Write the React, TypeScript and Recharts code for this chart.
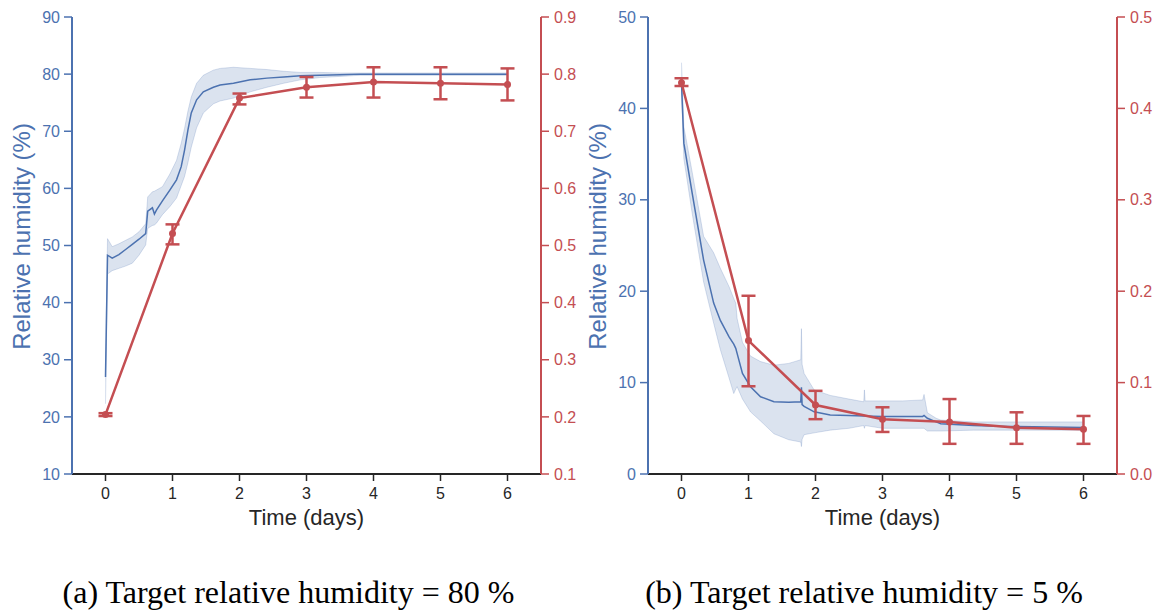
import React from 'react';
import { Area, ComposedChart, ErrorBar, Line, XAxis, YAxis } from 'recharts';

const days = [0, 1, 2, 3, 4, 5, 6];

// (a) target RH 80 %: sensor humidity (mean and min/max band)
const timeA = [0, 0.03, 0.1, 0.2, 0.3, 0.4, 0.5, 0.6, 0.63, 0.7, 0.73, 0.76, 0.85, 0.96, 1.06, 1.13, 1.18, 1.23, 1.28, 1.36, 1.46, 1.61, 1.71, 1.91, 2.16, 2.41, 2.66, 2.91, 3.2, 3.5, 3.8, 4.2, 4.6, 5.0, 5.5, 6.0];
const meanA = [27, 48.3, 47.8, 48.4, 49.3, 50.2, 51.1, 52.1, 56, 56.6, 55.5, 56.2, 57.8, 59.7, 61.5, 63.8, 66.7, 70.2, 73.2, 75.5, 76.9, 77.7, 78.1, 78.4, 79.0, 79.3, 79.5, 79.7, 79.8, 79.9, 80, 80, 80, 80, 80, 80];
const lowA = [22.3, 45, 45.6, 46.0, 46.4, 46.9, 48.3, 50.1, 53.0, 53.5, 53.6, 53.9, 55.4, 56.8, 58.3, 60.5, 62.1, 64.5, 67.2, 70.6, 73.2, 74.8, 75.3, 75.8, 76.9, 77.7, 78.4, 79.0, 79.4, 79.6, 79.8, 79.8, 79.8, 79.8, 79.8, 79.8];
const highA = [28, 51.2, 49.8, 50.3, 50.9, 51.5, 52.4, 53.8, 58.5, 59.4, 59.5, 59.7, 60.3, 62.5, 64.9, 67.9, 70.5, 73.5, 76.0, 78.4, 79.8, 80.7, 81.0, 81.2, 81.0, 80.8, 80.5, 80.3, 80.3, 80.2, 80.2, 80.2, 80.2, 80.2, 80.2, 80.2];
// (a) daily measured ratio with error bars
const ratioA = [0.204, 0.521, 0.758, 0.777, 0.786, 0.784, 0.782];
const ratioLowA = [0.2015, 0.502, 0.747, 0.759, 0.759, 0.756, 0.754];
const ratioHighA = [0.2065, 0.537, 0.766, 0.795, 0.812, 0.812, 0.81];

// (b) target RH 5 %
const timeB = [0, 0.035, 0.16, 0.33, 0.48, 0.58, 0.71, 0.78, 0.81, 0.83, 0.91, 1.03, 1.18, 1.38, 1.6, 1.78, 1.79, 1.8, 1.83, 1.98, 2.22, 2.5, 2.72, 2.73, 2.74, 3.0, 3.3, 3.6, 3.62, 3.67, 3.8, 3.87, 4.36, 4.86, 5.5, 6.0];
const meanB = [42.8, 36.2, 30.7, 23.4, 18.7, 16.8, 15.0, 14.2, 13.75, 13.2, 11.0, 9.55, 8.45, 7.9, 7.85, 7.9, 9.5, 7.6, 7.4, 6.8, 6.45, 6.4, 6.35, 6.35, 6.35, 6.3, 6.3, 6.3, 6.4, 6.1, 5.7, 5.5, 5.3, 5.2, 5.15, 5.1];
const lowB = [42, 34.5, 28.5, 21.0, 16.5, 13.6, 10.5, 8.8, 9.3, 9.55, 8.2, 6.8, 5.8, 4.4, 3.75, 3.5, 3.0, 3.8, 4.3, 4.5, 4.8, 5.0, 5.3, 5.0, 5.3, 5.0, 5.0, 5.0, 5.0, 4.7, 4.7, 4.7, 4.8, 4.8, 4.8, 4.8];
const highB = [45, 38, 33, 26.0, 24.2, 22.5, 20.5, 19.2, 18.7, 17.0, 14.4, 12.9, 12.3, 11.9, 12.1, 12.5, 15.9, 12.0, 11.0, 9.2, 8.6, 8.2, 7.9, 9.2, 8.0, 8.0, 8.0, 8.1, 8.7, 6.7, 6.1, 5.9, 5.7, 5.7, 5.7, 5.7];
const ratioB = [0.428, 0.146, 0.0755, 0.06, 0.057, 0.0507, 0.049];
const ratioLowB = [0.4245, 0.096, 0.06, 0.046, 0.033, 0.033, 0.033];
const ratioHighB = [0.433, 0.195, 0.091, 0.073, 0.082, 0.0675, 0.0635];

const rhTicksA = [10, 20, 30, 40, 50, 60, 70, 80, 90];
const ratioTicksA = [0.1, 0.2, 0.3, 0.4, 0.5, 0.6, 0.7, 0.8, 0.9];
const rhTicksB = [0, 10, 20, 30, 40, 50];
const ratioTicksB = [0, 0.1, 0.2, 0.3, 0.4, 0.5];

const BLUE = '#4c72b0';
const RED = '#c44e52';
const INK = '#262626';
const SANS = '"Liberation Sans", Arial, sans-serif';

const humidityRows = (t: number[], mean: number[], lo: number[], hi: number[]) =>
  t.map((v, i) => ({ t: v, mean: mean[i], band: [lo[i], hi[i]] }));

const ratioRows = (val: number[], lo: number[], hi: number[]) =>
  days.map((d, i) => ({ t: d, ratio: val[i], err: [val[i] - lo[i], hi[i] - val[i]] }));

const yLabel = (props: any) => {
  const vb = props.viewBox;
  const x = vb.x + 21;
  const y = vb.y + vb.height / 2 - 9;
  return (
    <text
      x={x}
      y={y}
      transform={`rotate(-90 ${x} ${y})`}
      textAnchor="middle"
      dominantBaseline="central"
      fill={BLUE}
      fontSize={24}
      fontFamily={SANS}
    >
      Relative humidity (%)
    </text>
  );
};

const xLabel = (props: any) => {
  const vb = props.viewBox;
  return (
    <text x={vb.x + vb.width / 2} y={vb.y + 51} textAnchor="middle" fill={INK} fontSize={22} fontFamily={SANS}>
      Time (days)
    </text>
  );
};

type PanelProps = {
  left: number;
  width: number;
  rightWidth: number;
  humidity: any[];
  ratio: any[];
  rhDomain: number[];
  rhTicks: number[];
  ratioDomain: number[];
  ratioTicks: number[];
};

const Panel = ({ left, width, rightWidth, humidity, ratio, rhDomain, rhTicks, ratioDomain, ratioTicks }: PanelProps) => (
  <div style={{ position: 'absolute', left, top: 0 }}>
    <ComposedChart width={width} height={540} data={humidity} margin={{ top: 17, right: 0, bottom: 0, left: 0 }}>
      <XAxis
        xAxisId="top"
        orientation="top"
        type="number"
        dataKey="t"
        domain={[-0.5, 6.5]}
        height={0}
        tick={false}
        tickLine={false}
        axisLine={{ stroke: INK, strokeWidth: 2 }}
      />
      <XAxis
        type="number"
        dataKey="t"
        domain={[-0.5, 6.5]}
        ticks={days}
        height={66}
        tickSize={7}
        tickMargin={7}
        tick={{ fill: INK, fontSize: 16, fontFamily: SANS }}
        tickLine={{ stroke: INK, strokeWidth: 1.5 }}
        axisLine={{ stroke: INK, strokeWidth: 2 }}
        label={xLabel}
      />
      <YAxis
        yAxisId="rh"
        width={72}
        type="number"
        domain={rhDomain}
        ticks={rhTicks}
        tickSize={8}
        tickMargin={4}
        tick={{ fill: BLUE, fontSize: 16, fontFamily: SANS }}
        tickLine={{ stroke: BLUE, strokeWidth: 1.5 }}
        axisLine={{ stroke: BLUE, strokeWidth: 2 }}
        label={yLabel}
      />
      <YAxis
        yAxisId="ratio"
        orientation="right"
        width={rightWidth}
        type="number"
        domain={ratioDomain}
        ticks={ratioTicks}
        tickFormatter={(v: number) => v.toFixed(1)}
        tickSize={8}
        tickMargin={5}
        tick={{ fill: RED, fontSize: 16, fontFamily: SANS }}
        tickLine={{ stroke: RED, strokeWidth: 1.5 }}
        axisLine={{ stroke: RED, strokeWidth: 2 }}
      />
      <Area
        yAxisId="rh"
        dataKey="band"
        type="linear"
        fill={BLUE}
        fillOpacity={0.2}
        stroke={BLUE}
        strokeOpacity={0.22}
        strokeWidth={1}
        isAnimationActive={false}
        activeDot={false}
      />
      <Line
        yAxisId="rh"
        dataKey="mean"
        type="linear"
        stroke={BLUE}
        strokeWidth={1.5}
        dot={false}
        activeDot={false}
        isAnimationActive={false}
      />
      <Line
        yAxisId="ratio"
        data={ratio}
        dataKey="ratio"
        type="linear"
        stroke={RED}
        strokeWidth={2.5}
        dot={{ r: 3.5, fill: RED, stroke: RED, strokeWidth: 0 }}
        activeDot={false}
        isAnimationActive={false}
      >
        <ErrorBar dataKey="err" direction="y" width={7} stroke={RED} strokeWidth={2.5} />
      </Line>
    </ComposedChart>
  </div>
);

export default function App() {
  return (
    <div style={{ position: 'absolute', left: 0, top: 0, width: 1165, height: 611, background: '#fff' }}>
      <Panel
        left={0}
        width={580}
        rightWidth={39}
        humidity={humidityRows(timeA, meanA, lowA, highA)}
        ratio={ratioRows(ratioA, ratioLowA, ratioHighA)}
        rhDomain={[10, 90]}
        rhTicks={rhTicksA}
        ratioDomain={[0.1, 0.9]}
        ratioTicks={ratioTicksA}
      />
      <Panel
        left={576}
        width={589}
        rightWidth={48}
        humidity={humidityRows(timeB, meanB, lowB, highB)}
        ratio={ratioRows(ratioB, ratioLowB, ratioHighB)}
        rhDomain={[0, 50]}
        rhTicks={rhTicksB}
        ratioDomain={[0, 0.5]}
        ratioTicks={ratioTicksB}
      />
      <svg width={1165} height={611} style={{ position: 'absolute', left: 0, top: 0, pointerEvents: 'none' }}>
        <text x={288.5} y={603} textAnchor="middle" fontSize={32} fontFamily='"Liberation Serif", "Times New Roman", serif' fill="#000">
          (a) Target relative humidity = 80 %
        </text>
        <text x={864} y={603} textAnchor="middle" fontSize={32} fontFamily='"Liberation Serif", "Times New Roman", serif' fill="#000">
          (b) Target relative humidity = 5 %
        </text>
      </svg>
    </div>
  );
}
